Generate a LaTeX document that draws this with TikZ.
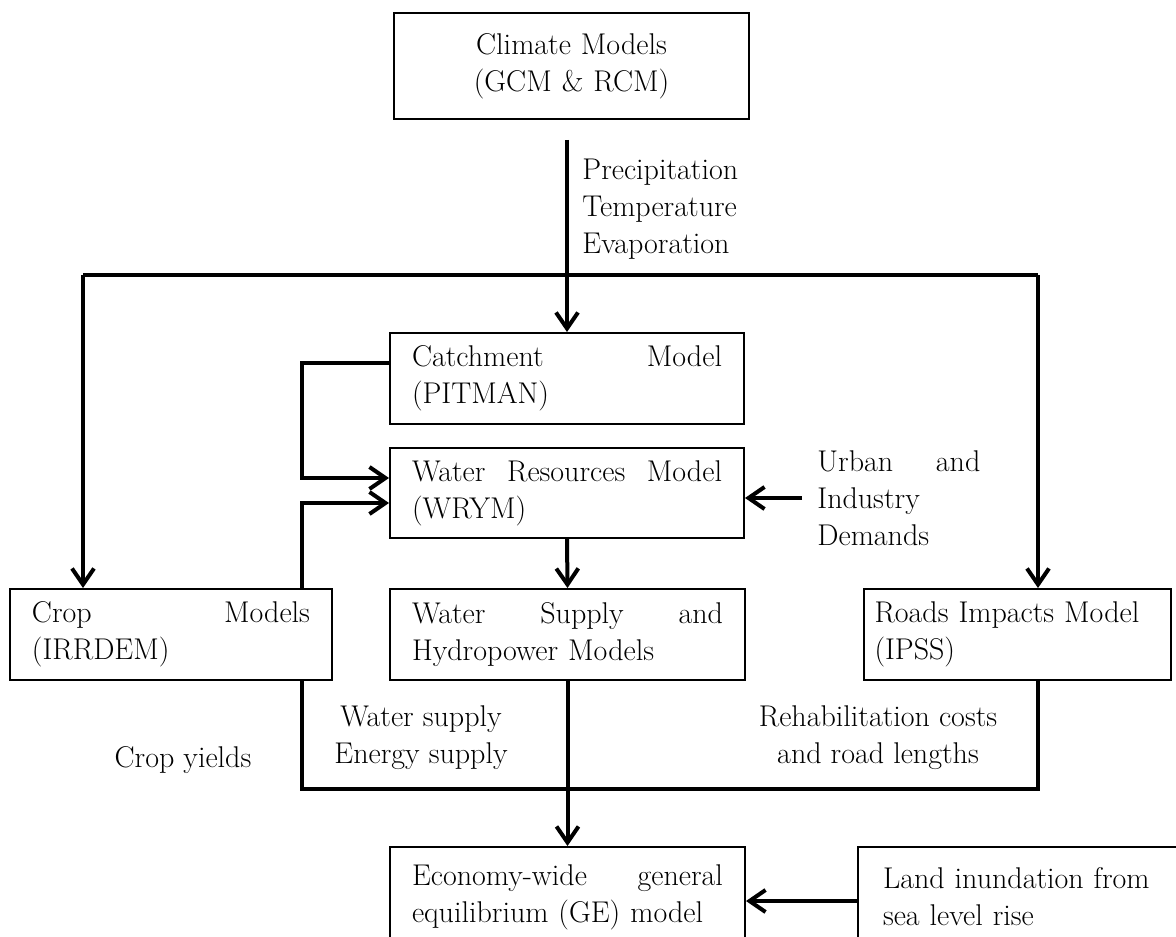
\documentclass[tikz,border=0pt]{standalone}
\usetikzlibrary{arrows.meta}
\tikzset{
  txt/.style={font=\fontsize{15}{18.5}\selectfont},
  box/.style={txt, draw, line width=1pt, inner xsep=11pt, inner ysep=0pt, anchor=north west, align=left},
  lbl/.style={txt, inner sep=0pt},
  conn/.style={line width=2pt},
  arr/.style={conn, -{Straight Barb[length=8pt,width=11pt]}},
}
\begin{document}
\begin{tikzpicture}[x=0.5pt,y=-0.5pt]
\useasboundingbox (0,0) rectangle (1176,936);
\clip (0,0) rectangle (1176,936);

% boxes
\node[box, align=center, text width=155.5pt, minimum height=53pt] (clim) at (393,12) {Climate Models\\(GCM \& RCM)};
\node[box, text width=155pt, minimum height=45.5pt] (catch) at (389,332) {Catchment\hfill Model\\(PITMAN)};
\node[box, text width=155pt, minimum height=45pt] (wrym) at (389,447) {Water\hfill Resources\hfill Model\\(WRYM)};
\node[box, text width=139pt, minimum height=45.5pt] (crop) at (9,588) {Crop\hfill Models\\(IRRDEM)};
\node[box, text width=155.5pt, minimum height=45.5pt] (water) at (389,588) {Water\hfill Supply\hfill and\\Hydropower Models};
\node[box, inner xsep=5.25pt, text width=143pt, minimum height=45.5pt] (roads) at (863,588) {Roads Impacts Model\\(IPSS)};
\node[box, text width=155.5pt, minimum height=50pt] (ge) at (389,846) {Economy-wide\hfill general\\equilibrium (GE) model};
\node[box, inner xsep=12.5pt, text width=150pt, minimum height=50pt] (land) at (857,846) {Land inundation from\\sea level rise};

% labels
\node[lbl, anchor=west, align=left] (clim-lbl) at (582,209) {Precipitation\\Temperature\\Evaporation};
\node[txt, inner xsep=7.5pt, inner ysep=0pt, anchor=west, align=left, text width=81.5pt] (urban) at (802,498) {Urban\hfill and\\Industry\\Demands};
\node[lbl] (crop-lbl) at (183,760) {Crop yields};
\node[lbl, align=center] (water-lbl) at (421,738) {Water supply\\Energy supply};
\node[lbl, align=center] (roads-lbl) at (878,738) {Rehabilitation costs\\and road lengths};

% connectors
\coordinate (cs) at (567,140);
\draw[arr] (cs) -- (catch.north);
\coordinate (hl) at (83,275);
\coordinate (hr) at (1038,275);
\draw[conn] (hl) -- (hr);
\draw[arr] (hl) -- (hl |- crop.north);
\draw[arr] (hr) -- (hr |- roads.north);

\coordinate (lx) at (302,478);
\draw[arr] ([yshift=7.75pt]catch.west) -| (lx) -- (lx -| wrym.west);
\coordinate (cx) at (302,503);
\draw[arr] (cx |- crop.north) -- (cx) -- (cx -| wrym.west);

\draw[arr] (urban.west) -- (urban.west -| wrym.east);
\draw[arr] (wrym.south) -- (water.south |- water.north);

\coordinate (bl) at (302,789);
\coordinate (br) at (1038,789);
\draw[conn] (bl |- crop.south) -- (bl) -- (br) -- (br |- roads.south);
\draw[arr] (water.south) -- (ge.north);

\coordinate (lw) at (857,901);
\draw[arr] (lw) -- (lw -| ge.east);
\end{tikzpicture}
\end{document}
